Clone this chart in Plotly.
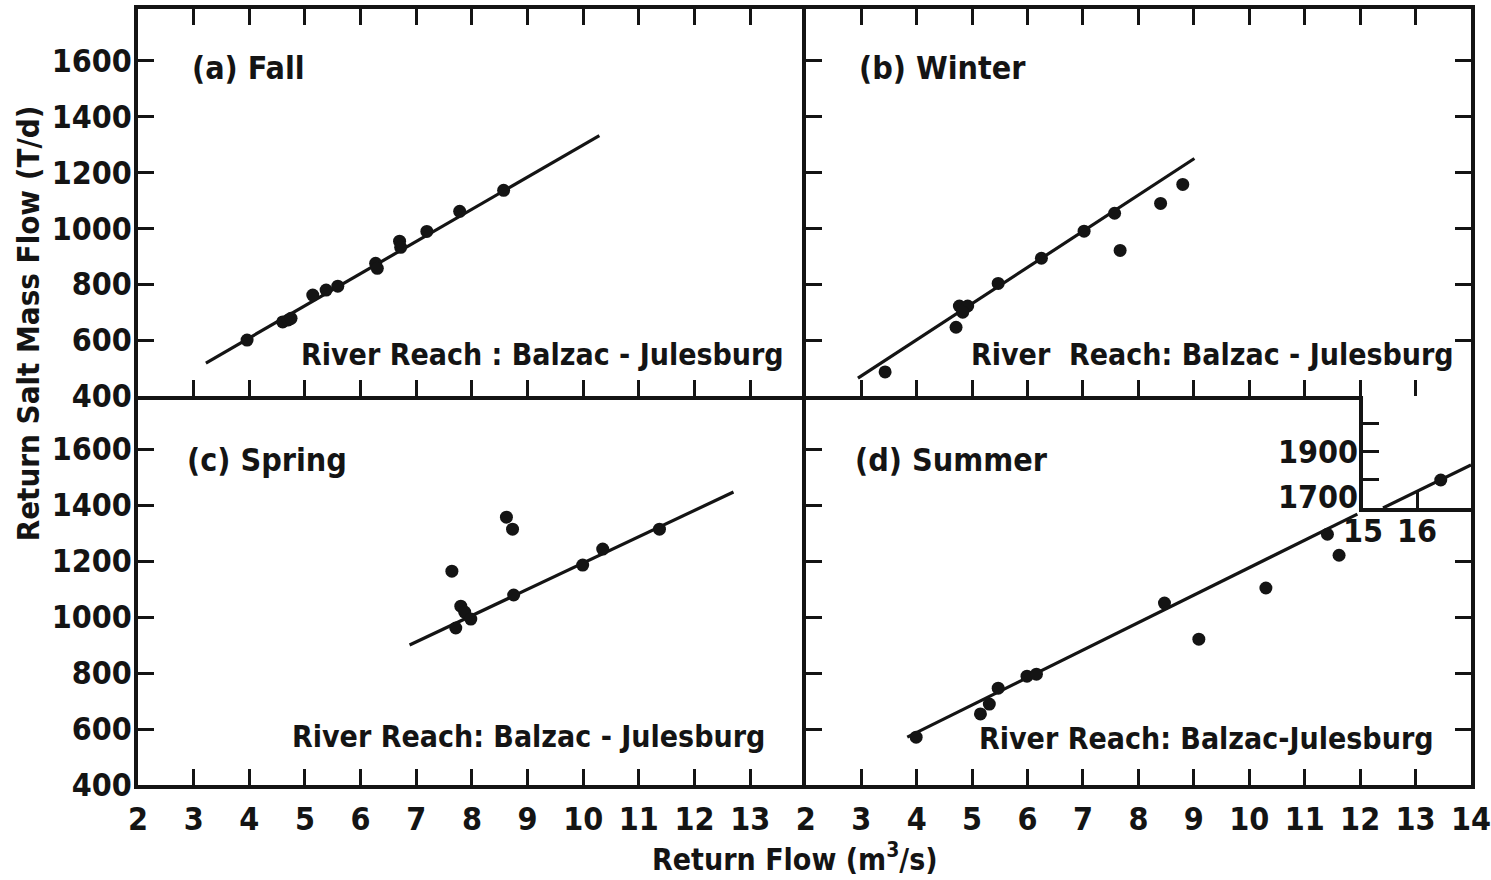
import plotly.graph_objects as go

# ---------------- data ----------------
fall_x = [3.96, 4.60, 4.70, 4.75, 5.14, 5.38, 5.59, 6.27, 6.30, 6.70, 6.72, 7.19, 7.78, 8.57]
fall_y = [600, 665, 672, 678, 761, 779, 793, 875, 857, 954, 932, 989, 1061, 1136]
fall_fit_x = [3.22, 10.29]
fall_fit_y = [518, 1332]

winter_x = [3.43, 4.71, 4.77, 4.92, 4.83, 5.47, 6.25, 7.02, 7.57, 7.67, 8.40, 8.80]
winter_y = [486, 646, 722, 722, 700, 803, 893, 990, 1054, 921, 1089, 1157]
winter_fit_x = [2.94, 9.01]
winter_fit_y = [464, 1250]

spring_x = [7.64, 8.62, 8.73, 7.71, 7.80, 7.87, 7.98, 8.75, 9.99, 10.35, 11.37]
spring_y = [1164, 1357, 1314, 961, 1039, 1018, 993, 1079, 1186, 1243, 1314]
spring_fit_x = [6.88, 12.70]
spring_fit_y = [900, 1447]

summer_x = [3.99, 5.15, 5.31, 5.47, 5.99, 6.16, 8.47, 9.09, 10.30, 11.41, 11.62]
summer_y = [571, 654, 689, 746, 789, 796, 1050, 921, 1104, 1296, 1221]
summer_fit_x = [3.83, 11.95]
summer_fit_y = [571, 1368]

inset_x = [16.44]
inset_y = [1800]
inset_fit_x = [15.37, 17.0]
inset_fit_y = [1700, 1854]

x_ticks = list(range(2, 15))
x_ticks_left = list(range(2, 14))
y_ticks = list(range(400, 1601, 200))
inset_y_ticks = [1700, 1800, 1900, 2000]
inset_x_ticks = [15, 16]

panel_titles = ["(a) Fall", "(b) Winter", "(c) Spring", "(d) Summer"]
reach_texts = ["River Reach : Balzac - Julesburg", "River  Reach: Balzac - Julesburg",
               "River Reach: Balzac - Julesburg", "River Reach: Balzac-Julesburg"]
x_title = "Return Flow (m<sup>3</sup>/s)"
y_title = "Return Salt Mass Flow (T/d)"

# ---------------- styling ----------------
INK = "#141414"
FONT = "DejaVu Sans Condensed, DejaVu Sans"
tick_font = dict(family=FONT, size=32, color=INK, weight="bold")
txt_font = dict(family=FONT, size=30, color=INK, weight="bold")
ttl_font = dict(family=FONT, size=32, color=INK, weight="bold")

fig = go.Figure()

panels = [
    ("x", "y", fall_x, fall_y, fall_fit_x, fall_fit_y),
    ("x2", "y2", winter_x, winter_y, winter_fit_x, winter_fit_y),
    ("x3", "y3", spring_x, spring_y, spring_fit_x, spring_fit_y),
    ("x4", "y4", summer_x, summer_y, summer_fit_x, summer_fit_y),
    ("x5", "y5", inset_x, inset_y, inset_fit_x, inset_fit_y),
]
for xa, ya, px, py, fx, fy in panels:
    fig.add_trace(go.Scatter(x=fx, y=fy, mode="lines", xaxis=xa, yaxis=ya,
                             line=dict(color=INK, width=3.2), showlegend=False,
                             hoverinfo="skip", cliponaxis=True))
    fig.add_trace(go.Scatter(x=px, y=py, mode="markers", xaxis=xa, yaxis=ya,
                             marker=dict(color=INK, size=13, line=dict(width=0)),
                             showlegend=False))

XDL = [0, 0.501]
XDR = [0.501, 1]
YDT = [0.5013, 1]
YDB = [0, 0.5013]

common = dict(showgrid=False, zeroline=False, showline=True, linecolor=INK, linewidth=3.5,
              ticks="inside", ticklen=16, tickwidth=3, tickcolor=INK, tickfont=tick_font,
              ticklabeloverflow="allow", automargin=False)

fig.update_layout(
    width=1491, height=880,
    margin=dict(l=138, r=20, t=9, b=95, autoexpand=False),
    paper_bgcolor="white", plot_bgcolor="white",
    xaxis=dict(domain=XDL, range=[2, 14], anchor="y", tickvals=x_ticks,
               showticklabels=False, mirror="ticks", **common),
    yaxis=dict(domain=YDT, range=[400, 1785], anchor="x", tickvals=y_ticks,
               mirror=False, ticklabelstandoff=-4, **common),
    xaxis2=dict(domain=XDR, range=[2, 14], anchor="y2", tickvals=x_ticks,
                showticklabels=False, mirror="ticks", **common),
    yaxis2=dict(domain=YDT, range=[400, 1785], anchor="x2", tickvals=y_ticks,
                showticklabels=False, mirror="ticks", **common),
    xaxis3=dict(domain=XDL, range=[2, 14], anchor="y3", tickvals=x_ticks_left,
                mirror=False, ticklabelstandoff=3, **common),
    yaxis3=dict(domain=YDB, range=[400, 1790], anchor="x3", tickvals=y_ticks,
                mirror=False, ticklabelstandoff=-4, **common),
    xaxis4=dict(domain=XDR, range=[2, 14], anchor="y4", tickvals=x_ticks,
                mirror=False, ticklabelstandoff=3, **common),
    yaxis4=dict(domain=YDB, range=[400, 1790], anchor="x4", tickvals=y_ticks,
                showticklabels=False, mirror="ticks", **common),
    xaxis5=dict(domain=[0.919, 1], range=[15, 17], anchor="y5", tickvals=inset_x_ticks,
                ticklabelstandoff=-8, **common),
    yaxis5=dict(domain=[0.357, 0.5013], range=[1700, 2100], anchor="x5",
                tickvals=inset_y_ticks, showticklabels=False, **common),
)

# panel titles
title_pos = [("x", "y", 2.93, 1575), ("x2", "y2", 2.92, 1575),
             ("x3", "y3", 2.85, 1560), ("x4", "y4", 2.85, 1560)]
for (xr, yr, tx, ty), t in zip(title_pos, panel_titles):
    fig.add_annotation(x=tx, y=ty, xref=xr, yref=yr, text=t, showarrow=False,
                       xanchor="left", yanchor="middle", font=ttl_font)

reach_pos = [("x", "y", 13.64, 550), ("x2", "y2", 13.73, 550),
             ("x3", "y3", 13.31, 575), ("x4", "y4", 13.37, 565)]
for (xr, yr, tx, ty), t in zip(reach_pos, reach_texts):
    fig.add_annotation(x=tx, y=ty, xref=xr, yref=yr, text=t, showarrow=False,
                       xanchor="right", yanchor="middle", font=txt_font)

# inset y labels
fig.add_annotation(x=15, y=1900, xref="x5", yref="y5", text="1900", showarrow=False,
                   xanchor="right", yanchor="middle", xshift=-3, font=tick_font)
fig.add_annotation(x=15, y=1700, xref="x5", yref="y5", text="1700", showarrow=False,
                   xanchor="right", yanchor="middle", xshift=-3, yshift=11, font=tick_font)

# axis titles
fig.add_annotation(x=0.493, y=-0.094, xref="paper", yref="paper", text=x_title,
                   showarrow=False, xanchor="center", yanchor="middle", font=txt_font)
fig.add_annotation(x=-0.0825, y=0.595, xref="paper", yref="paper", text=y_title,
                   showarrow=False, textangle=-90, xanchor="center", yanchor="middle",
                   font=dict(family=FONT, size=31, color=INK, weight="bold"))

fig.write_html("out.html", config={"displayModeBar": False},
               post_script="document.body.style.margin='0';document.body.style.overflow='hidden';")
